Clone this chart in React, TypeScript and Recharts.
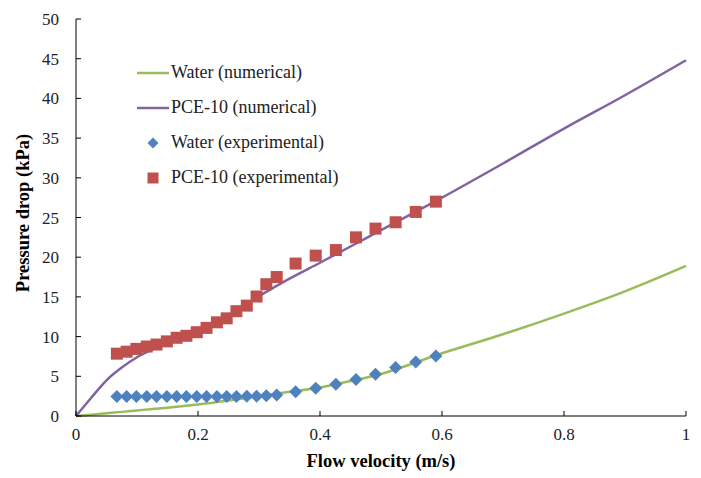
import React from 'react';
import { ComposedChart, Line, Scatter, XAxis, YAxis, Legend, Label } from 'recharts';

// numerical curves
const numVelocity = [0, 0.025, 0.05, 0.075, 0.1, 0.125, 0.15, 0.2, 0.25, 0.3, 0.35, 0.4, 0.45, 0.5, 0.6, 0.7, 0.8, 0.9, 1.0];
const waterNumerical = [0, 0.17, 0.35, 0.52, 0.7, 0.88, 1.05, 1.45, 1.95, 2.5, 3.05, 3.6, 4.4, 5.3, 7.9, 10.3, 12.9, 15.7, 18.9];
const pceNumerical = [0, 2.3, 4.5, 6.1, 7.4, 8.35, 9.1, 10.7, 12.7, 15.1, 17.3, 19.3, 21.35, 23.4, 27.5, 31.8, 36.2, 40.4, 44.8];

// experimental points
const expVelocity = [0.067, 0.083, 0.099, 0.116, 0.132, 0.149, 0.165, 0.181, 0.198, 0.214, 0.231, 0.247, 0.263, 0.28, 0.296, 0.312, 0.329, 0.36, 0.393, 0.426, 0.459, 0.491, 0.524, 0.557, 0.59];
const waterExperimental = [2.45, 2.45, 2.45, 2.45, 2.45, 2.45, 2.45, 2.45, 2.45, 2.45, 2.45, 2.45, 2.45, 2.5, 2.5, 2.55, 2.65, 3.05, 3.5, 4.0, 4.6, 5.25, 6.1, 6.8, 7.55];
const pceExperimental = [7.85, 8.1, 8.45, 8.75, 9.0, 9.4, 9.85, 10.1, 10.55, 11.1, 11.8, 12.3, 13.2, 13.9, 15.05, 16.6, 17.5, 19.2, 20.2, 20.9, 22.5, 23.6, 24.4, 25.7, 27.0];

const xTicks = [0, 0.2, 0.4, 0.6, 0.8, 1];
const yTicks = [0, 5, 10, 15, 20, 25, 30, 35, 40, 45, 50];

const GREEN = '#9BBB59';
const PURPLE = '#8064A2';
const BLUE = '#4F81BD';
const RED = '#C0504D';
const FONT = "'Liberation Serif', 'Times New Roman', serif";

const toPoints = (xs: number[], ys: number[]) => xs.map((v, i) => ({ v, p: ys[i] }));

const waterNumData = toPoints(numVelocity, waterNumerical);
const pceNumData = toPoints(numVelocity, pceNumerical);
const waterExpData = toPoints(expVelocity, waterExperimental);
const pceExpData = toPoints(expVelocity, pceExperimental);

const Diamond = (props: any) => {
  const { cx, cy } = props;
  if (cx == null || cy == null) return null;
  const r = 6.5;
  return <path d={`M${cx},${cy - r}L${cx + r},${cy}L${cx},${cy + r}L${cx - r},${cy}Z`} fill={BLUE} />;
};

const Square = (props: any) => {
  const { cx, cy } = props;
  if (cx == null || cy == null) return null;
  const s = 12;
  return <rect x={cx - s / 2} y={cy - s / 2} width={s} height={s} fill={RED} />;
};

const legendItems = [
  { name: 'Water (numerical)', kind: 'line', color: GREEN },
  { name: 'PCE-10 (numerical)', kind: 'line', color: PURPLE },
  { name: 'Water (experimental)', kind: 'diamond', color: BLUE },
  { name: 'PCE-10 (experimental)', kind: 'square', color: RED },
];

const renderLegend = () => (
  <div style={{ fontFamily: FONT, fontSize: 18, color: '#222', textAlign: 'left' }}>
    {legendItems.map((it) => (
      <div key={it.name} style={{ display: 'flex', alignItems: 'center', height: 35 }}>
        <svg width={36} height={14}>
          {it.kind === 'line' && <line x1={2} y1={7} x2={34} y2={7} stroke={it.color} strokeWidth={2.5} />}
          {it.kind === 'diamond' && <path d="M18,1.5L23.5,7L18,12.5L12.5,7Z" fill={it.color} />}
          {it.kind === 'square' && <rect x={12.5} y={1.5} width={11} height={11} fill={it.color} />}
        </svg>
        <span>{it.name}</span>
      </div>
    ))}
  </div>
);

const tickStyle = { fill: '#222', fontFamily: FONT, fontSize: 17 };
const titleStyle = { fontFamily: FONT, fontSize: 18.5, fontWeight: 'bold' as const };

export default function App() {
  return (
    <div style={{ position: 'absolute', left: 0, top: 0, width: 701, height: 478, background: '#fff' }}>
      <ComposedChart
        width={701}
        height={478}
        margin={{ top: 19, right: 15, bottom: 0, left: 0 }}
        style={{ fontFamily: FONT }}
      >
        <XAxis
          type="number"
          dataKey="v"
          domain={[0, 1]}
          ticks={xTicks}
          tickSize={-5}
          tickMargin={17}
          height={62}
          stroke="#000"
          tick={tickStyle}
          allowDuplicatedCategory={false}
        >
          <Label
            content={({ viewBox }: any) => (
              <text
                x={viewBox.x + viewBox.width / 2}
                y={viewBox.y + 51}
                textAnchor="middle"
                style={titleStyle}
                fill="#000"
              >
                Flow velocity (m/s)
              </text>
            )}
          />
        </XAxis>
        <YAxis
          type="number"
          dataKey="p"
          domain={[0, 50]}
          ticks={yTicks}
          width={76}
          tickSize={-5}
          tickMargin={22}
          stroke="#000"
          tick={tickStyle}
        >
          <Label
            content={() => {
              const x = 23;
              const y = 213;
              return (
                <text
                  x={x}
                  y={y}
                  transform={`rotate(-90 ${x} ${y})`}
                  textAnchor="middle"
                  dominantBaseline="central"
                  style={titleStyle}
                  fill="#000"
                >
                  Pressure drop (kPa)
                </text>
              );
            }}
          />
        </YAxis>
        <Legend
          layout="vertical"
          verticalAlign="middle"
          align="center"
          content={renderLegend}
          wrapperStyle={{ left: 135, top: 55, width: 280 }}
        />
        <Line
          data={waterNumData}
          dataKey="p"
          type="monotone"
          stroke={GREEN}
          strokeWidth={2.5}
          dot={false}
          activeDot={false}
          isAnimationActive={false}
        />
        <Line
          data={pceNumData}
          dataKey="p"
          type="monotone"
          stroke={PURPLE}
          strokeWidth={2.5}
          dot={false}
          activeDot={false}
          isAnimationActive={false}
        />
        <Scatter data={waterExpData} dataKey="p" shape={<Diamond />} isAnimationActive={false} />
        <Scatter data={pceExpData} dataKey="p" shape={<Square />} isAnimationActive={false} />
      </ComposedChart>
    </div>
  );
}
